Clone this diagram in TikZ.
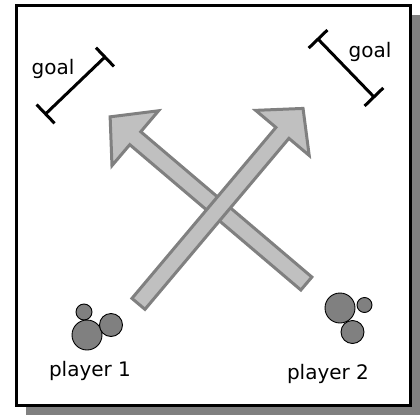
\documentclass[tikz,border=0pt]{standalone}
\usepackage{fontspec}
\setmainfont{DejaVu Sans}
\usetikzlibrary{arrows.meta, positioning, calc}

\definecolor{shadowgray}{HTML}{808080}
\definecolor{arrowfill}{HTML}{C0C0C0}

\begin{document}
\begin{tikzpicture}[
    x=1pt, y=-1pt,
    lbl/.style={inner sep=0pt, font=\fontsize{20}{22}\selectfont},
    goalline/.style={line width=3pt, {Bar[width=26pt]}-{Bar[width=26pt]}},
    fatarrow/.style={draw=shadowgray, fill=arrowfill, line width=3pt, line join=miter},
    ball/.style={circle, draw, fill=shadowgray, line width=0.9pt, inner sep=0pt},
]
\useasboundingbox (0,0) rectangle (420,415);

% frame with drop shadow
\fill[shadowgray] (26,15) rectangle (420,415);
\draw[line width=3pt, fill=white] (16,5.5) rectangle (410.5,405);

% goals
\coordinate (goalAa) at (44.5,115);
\coordinate (goalAb) at (106,56);
\coordinate (goalBa) at (317,38);
\coordinate (goalBb) at (375,98);
\draw[goalline] (goalAa) -- (goalAb);
\draw[goalline] (goalBa) -- (goalBb);
\node[lbl] (goalA) at (53,69) {goal};
\node[lbl] (goalB) at (370,52) {goal};

% arrow of player 2 (below)
\begin{scope}[shift={(307.5,284.5)}, rotate=139.65]
  \draw[fatarrow] (1.5,-8.5) -- (226,-8.5) -- (226,-36) -- (259,0)
    -- (226,36) -- (226,8.5) -- (1.5,8.5) -- cycle;
\end{scope}

% arrow of player 1 (on top)
\begin{scope}[shift={(137.5,305)}, rotate=49.9]
  \draw[fatarrow] (1.5,-8.5) -- (225,-8.5) -- (225,-35) -- (257,0)
    -- (225,35) -- (225,8.5) -- (1.5,8.5) -- cycle;
\end{scope}

% player 1
\node[ball, minimum size=16pt] (oneS) at (84,312) {};
\node[ball, minimum size=30pt] (oneB) at (87,335) {};
\node[ball, minimum size=23pt] (oneM) at (111,325) {};
\node[lbl] (playerA) at (90,371) {player 1};

% player 2
\node[ball, minimum size=30pt] (twoB) at (340,308) {};
\node[ball, minimum size=15pt] (twoS) at (364.5,305) {};
\node[ball, minimum size=23pt] (twoM) at (352.5,332) {};
\node[lbl] (playerB) at (328,374) {player 2};

\end{tikzpicture}
\end{document}
